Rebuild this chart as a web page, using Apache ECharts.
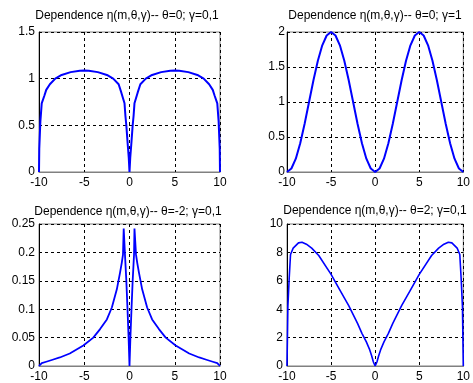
<!DOCTYPE html>
<html>
<head>
<meta charset="utf-8">
<script src="https://cdn.jsdelivr.net/npm/echarts@6/dist/echarts.min.js"></script>
<style>html,body{margin:0;padding:0;background:#fff}#c{width:473px;height:383px}</style>
</head>
<body>
<div id="c"></div>
<script>
// Panel titles
var titles = [
  'Dependence \u03b7(m,\u03b8,\u03b3)-- \u03b8=0; \u03b3=0,1',
  'Dependence \u03b7(m,\u03b8,\u03b3)-- \u03b8=0; \u03b3=1',
  'Dependence \u03b7(m,\u03b8,\u03b3)-- \u03b8=-2; \u03b3=0,1',
  'Dependence \u03b7(m,\u03b8,\u03b3)-- \u03b8=2; \u03b3=0,1'
];

// Panel 1: theta=0, gamma=0.1
var m1 = [-10,-9.97,-9.85,-9.7,-9.4,-9.2,-8.8,-8.2,-7.5,-6.5,-5.5,-5,-4.5,-3.5,-2.5,-1.8,-1.2,-0.9,-0.55,-0.45,-0.35,-0.2,-0.08,0,
          0.08,0.2,0.35,0.45,0.55,0.9,1.2,1.8,2.5,3.5,4.5,5,5.5,6.5,7.5,8.2,8.8,9.2,9.4,9.7,9.85,9.97,10];
var eta1 = [0,0.25,0.54,0.736,0.82,0.88,0.94,1.0,1.04,1.07,1.085,1.087,1.085,1.07,1.04,1.0,0.94,0.85,0.736,0.6,0.5,0.3,0.15,0,
            0.15,0.3,0.5,0.6,0.736,0.85,0.94,1.0,1.04,1.07,1.085,1.087,1.085,1.07,1.04,1.0,0.94,0.88,0.82,0.736,0.54,0.25,0];

// Panel 2: theta=0, gamma=1
var m2 = [-10,-9.5,-9,-8.5,-8,-7.5,-7,-6.5,-6,-5.5,-5,-4.5,-4,-3.5,-3,-2.5,-2,-1.5,-1,-0.5,0,
          0.5,1,1.5,2,2.5,3,3.5,4,4.5,5,5.5,6,6.5,7,7.5,8,8.5,9,9.5,10];
var eta2 = [0,0.05,0.19,0.41,0.69,1.0,1.31,1.59,1.81,1.95,2.0,1.95,1.81,1.59,1.31,1.0,0.69,0.41,0.19,0.05,0,
            0.05,0.19,0.41,0.69,1.0,1.31,1.59,1.81,1.95,2.0,1.95,1.81,1.59,1.31,1.0,0.69,0.41,0.19,0.05,0];

// Panel 3: theta=-2, gamma=0.1
var m3 = [-10,-9.7,-9.2,-8.5,-7.7,-6.6,-5.1,-4,-3.25,-2.5,-1.95,-1.4,-1.05,-0.85,-0.72,-0.64,-0.55,-0.5,-0.35,-0.22,-0.1,0,
          0.1,0.22,0.35,0.5,0.55,0.64,0.72,0.85,1.05,1.4,1.95,2.5,3.25,4,5.1,6.6,7.7,8.5,9.2,9.7,10];
var eta3 = [0,0.005,0.0075,0.011,0.015,0.022,0.036,0.05,0.065,0.082,0.103,0.135,0.164,0.182,0.196,0.242,0.242,0.196,0.15,0.1,0.05,0,
            0.05,0.1,0.15,0.196,0.242,0.242,0.196,0.182,0.164,0.135,0.103,0.082,0.065,0.05,0.036,0.022,0.015,0.011,0.0075,0.005,0];

// Panel 4: theta=2, gamma=0.1
var m4 = [-10,-9.95,-9.9,-9.75,-9.6,-9.3,-8.7,-8.3,-7.8,-7.2,-6.4,-5,-4,-3,-2,-1.5,-1,-0.65,-0.4,-0.2,0,
          0.2,0.4,0.65,1,1.5,2,3,4,5,6.4,7.2,7.8,8.3,8.7,9.3,9.6,9.75,9.9,9.95,10];
var eta4 = [0,2,4.2,6.2,7.85,8.3,8.67,8.72,8.58,8.3,7.78,6.45,5.35,4.25,3.0,2.3,1.7,1.19,0.72,0.28,0,
            0.28,0.72,1.19,1.7,2.3,3.0,4.25,5.35,6.45,7.78,8.3,8.58,8.72,8.67,8.3,7.85,6.2,4.2,2,0];

// Axis ranges / ticks
var xMin = -10, xMax = 10, xStep = 5;
var yMax = [1.5, 2, 0.25, 10];
var yStep = [0.5, 0.5, 0.05, 2];

var mArr = [m1, m2, m3, m4];
var etaArr = [eta1, eta2, eta3, eta4];

function zip(a, b) { return a.map(function (v, i) { return [v, b[i]]; }); }

var grids = [
  {left: 39, top: 32, width: 181, height: 140},
  {left: 287, top: 32, width: 180, height: 140},
  {left: 39, top: 224, width: 181, height: 143},
  {left: 287, top: 224, width: 180, height: 143}
];
var titlePos = [[127, 16], [375, 16], [128, 211.5], [375, 211]];
var yMargins = [4, 2, 4, 4];
var lineWidths = [2, 2, 1.8, 1.6];
var fontFam = 'Arial, "Liberation Sans", sans-serif';
var gridLine = {show: true, lineStyle: {color: '#000', type: [3, 3], width: 1}};

var option = {
  backgroundColor: '#fff',
  animation: false,
  grid: grids.map(function (g) {
    return Object.assign({show: true, borderColor: '#808080', borderWidth: 1, backgroundColor: '#fff', containLabel: false}, g);
  }),
  xAxis: grids.map(function (g, i) {
    return {
      type: 'value', gridIndex: i, min: xMin, max: xMax, interval: xStep,
      axisLine: {show: true, onZero: false, lineStyle: {color: '#808080', width: 1}},
      axisTick: {show: false},
      axisLabel: {color: '#000', fontSize: 12, fontFamily: fontFam, margin: 5},
      splitLine: gridLine
    };
  }),
  yAxis: grids.map(function (g, i) {
    return {
      type: 'value', gridIndex: i, min: 0, max: yMax[i], interval: yStep[i],
      axisLine: {show: true, onZero: false, lineStyle: {color: '#000', width: 1}},
      axisTick: {show: false},
      axisLabel: {color: '#000', fontSize: 12, fontFamily: fontFam, margin: yMargins[i]},
      splitLine: gridLine
    };
  }),
  series: mArr.map(function (m, i) {
    return {
      type: 'line', xAxisIndex: i, yAxisIndex: i,
      data: zip(m, etaArr[i]),
      showSymbol: false, smooth: false, z: 5,
      lineStyle: {color: '#0000ff', width: lineWidths[i]}
    };
  }),
  graphic: titles.map(function (t, i) {
    return {
      type: 'text', x: titlePos[i][0], y: titlePos[i][1], z: 10,
      style: {text: t, fill: '#000', font: '12px ' + fontFam, align: 'center', verticalAlign: 'middle'}
    };
  })
};

var chart = echarts.init(document.getElementById('c'), null, {renderer: 'canvas'});
chart.setOption(option);
</script>
</body>
</html>
